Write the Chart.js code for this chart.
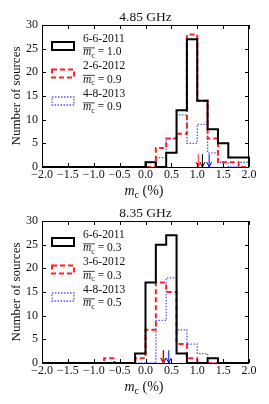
<!DOCTYPE html>
<html>
<head>
<meta charset="utf-8">
<script src="https://cdn.jsdelivr.net/npm/chart.js@4.4.1/dist/chart.umd.min.js"></script>
<style>
  html, body { margin: 0; padding: 0; background: #fff; }
  #wrap { width: 269px; height: 404px; position: relative; }
  canvas { display: block; }
</style>
</head>
<body>
<div id="wrap">
  <canvas id="chartTop" width="269" height="200"></canvas>
  <canvas id="chartBottom" width="269" height="204"></canvas>
</div>
<script>
// bin edges of the histograms (m_c in %)
const binEdges = [-2.0, -1.8, -1.6, -1.4, -1.2, -1.0, -0.8, -0.6, -0.4, -0.2,
  0.0, 0.2, 0.4, 0.6, 0.8, 1.0, 1.2, 1.4, 1.6, 1.8, 2.0];
const xTicks = [-2.0, -1.5, -1.0, -0.5, 0.0, 0.5, 1.0, 1.5, 2.0];
const yTicks = [0, 5, 10, 15, 20, 25, 30];

// 4.85 GHz
const top2011 = [0, 0, 0, 0, 0, 0, 0, 0, 0, 0, 1, 0, 3, 12, 27, 14, 8, 5, 2, 2];
const top2012 = [0, 0, 0, 0, 0, 0, 0, 0, 0, 0, 0, 4, 6, 7, 28, 14, 6, 1, 1, 0];
const top2013 = [0, 0, 0, 0, 0, 0, 0, 0, 0, 0, 1, 2, 6, 11, 5, 9, 3, 1, 0, 1];
const topLabels = ["6-6-2011", "2-6-2012", "4-8-2013"];
const topMeanText = ["1.0", "0.9", "0.9"];
const topArrows = [1.1, 1.02, 1.23];

// 8.35 GHz
const bot2011 = [0, 0, 0, 0, 0, 0, 0, 0, 0, 2, 17, 25, 27, 2, 0, 0, 1, 0, 0, 0];
const bot2012 = [0, 0, 0, 0, 0, 0, 1, 0, 0, 1, 7, 17, 15, 4, 1, 0, 0, 0, 0, 0];
const bot2013 = [0, 0, 0, 0, 0, 0, 0, 0, 0, 0, 0, 9, 18, 7, 4, 2, 0, 0, 0, 0];
const botLabels = ["6-6-2011", "3-6-2012", "4-8-2013"];
const botMeanText = ["0.3", "0.3", "0.5"];
const botArrows = [0.35, 0.34, 0.45];

const SERIF = "'Liberation Serif', 'DejaVu Serif', serif";
const styles = [
  { color: "#000000", width: 2, dash: [], arrow: "#000000" },
  { color: "#ff2020", width: 2, dash: [5, 3], arrow: "#ff2020" },
  { color: "#5555ff", width: 1.3, dash: [1.5, 1.5], arrow: "#0000ee" }
];

function stepPoints(counts) {
  const pts = counts.map((c, i) => ({ x: binEdges[i], y: c }));
  pts.push({ x: binEdges[binEdges.length - 1], y: counts[counts.length - 1] });
  pts.push({ x: binEdges[binEdges.length - 1], y: 0 });
  return pts;
}

function drawMc(ctx, x, y, size, overline) {
  // italic m with subscript c, optional bar over both
  ctx.font = `italic ${size}px ${SERIF}`;
  ctx.textAlign = "left";
  ctx.textBaseline = "alphabetic";
  ctx.fillText("m", x, y);
  const mw = ctx.measureText("m").width;
  ctx.font = `${Math.round(size * 0.7)}px ${SERIF}`;
  ctx.fillText("c", x + mw, y + size * 0.22);
  const cw = ctx.measureText("c").width;
  const w = mw + cw;
  if (overline) {
    ctx.save();
    ctx.lineWidth = 0.8;
    ctx.beginPath();
    ctx.moveTo(x, y - size * 0.62);
    ctx.lineTo(x + w, y - size * 0.62);
    ctx.stroke();
    ctx.restore();
  }
  return w;
}

function makeChart(canvasId, opts) {
  const H = opts.height;
  const deco = {
    id: "deco_" + canvasId,
    afterDatasetsDraw(chart) {
      const ctx = chart.ctx;
      const a = chart.chartArea;
      const xs = chart.scales.x;
      const ys = chart.scales.y;
      ctx.save();

      // mean arrows
      opts.arrows.forEach((m, i) => {
        const px = xs.getPixelForValue(m);
        const y0 = ys.getPixelForValue(2.7);
        const y1 = ys.getPixelForValue(0);
        ctx.strokeStyle = styles[i].arrow;
        ctx.lineWidth = 1;
        ctx.setLineDash([]);
        ctx.beginPath();
        ctx.moveTo(px, y0);
        ctx.lineTo(px, y1);
        ctx.moveTo(px - 2.5, y1 - 5);
        ctx.lineTo(px, y1);
        ctx.lineTo(px + 2.5, y1 - 5);
        ctx.stroke();
      });

      // frame and inward ticks
      ctx.strokeStyle = "#000";
      ctx.lineWidth = 1;
      ctx.strokeRect(a.left + 0.5, a.top + 0.5, a.right - a.left - 1, a.bottom - a.top);
      ctx.beginPath();
      xTicks.forEach((v) => {
        const px = Math.round(xs.getPixelForValue(v)) + 0.5;
        ctx.moveTo(px, a.bottom);
        ctx.lineTo(px, a.bottom - 4);
        ctx.moveTo(px, a.top);
        ctx.lineTo(px, a.top + 4);
      });
      yTicks.forEach((v) => {
        const py = Math.round(ys.getPixelForValue(v)) + 0.5;
        ctx.moveTo(a.left, py);
        ctx.lineTo(a.left + 4, py);
        ctx.moveTo(a.right, py);
        ctx.lineTo(a.right - 4, py);
      });
      ctx.stroke();

      // title
      ctx.fillStyle = "#111";
      ctx.font = `13.5px ${SERIF}`;
      ctx.textAlign = "center";
      ctx.textBaseline = "alphabetic";
      ctx.fillText(opts.title, (a.left + a.right) / 2, a.top - 4);

      // x label
      const lx = (a.left + a.right) / 2 - 21;
      const ly = a.bottom + 28;
      const w = drawMc(ctx, lx, ly, 14, false);
      ctx.font = `14px ${SERIF}`;
      ctx.textAlign = "left";
      ctx.fillText(" (%)", lx + w, ly);

      // y label
      ctx.save();
      ctx.translate(17, (a.top + a.bottom) / 2);
      ctx.rotate(-Math.PI / 2);
      ctx.font = `13px ${SERIF}`;
      ctx.textAlign = "center";
      ctx.textBaseline = "middle";
      ctx.fillText("Number of sources", 0, 0);
      ctx.restore();

      // legend
      opts.labels.forEach((lab, i) => {
        const by = a.top + 17 + i * 27.5;
        const st = styles[i];
        ctx.strokeStyle = st.color;
        ctx.lineWidth = st.width;
        ctx.setLineDash(st.dash);
        ctx.strokeRect(a.left + 10, by, 22, 8);
        ctx.setLineDash([]);
        ctx.fillStyle = "#111";
        ctx.font = `11.5px ${SERIF}`;
        ctx.textAlign = "left";
        ctx.textBaseline = "alphabetic";
        ctx.fillText(lab, a.left + 41, by - 0.5);
        ctx.strokeStyle = "#111";
        const mw = drawMc(ctx, a.left + 41, by + 13, 11.5, true);
        ctx.font = `11.5px ${SERIF}`;
        ctx.fillText(" = " + opts.meanText[i], a.left + 41 + mw, by + 13);
      });

      ctx.restore();
    }
  };

  const datasets = opts.series.map((counts, i) => ({
    data: stepPoints(counts),
    borderColor: styles[i].color,
    borderWidth: styles[i].width,
    borderDash: styles[i].dash,
    stepped: "before",
    pointRadius: 0,
    fill: false,
    clip: false
  }));

  return new Chart(document.getElementById(canvasId), {
    type: "line",
    data: { datasets },
    options: {
      responsive: false,
      animation: false,
      layout: { padding: { top: opts.top, right: 20, left: 0, bottom: 0 } },
      plugins: { legend: { display: false }, tooltip: { enabled: false } },
      scales: {
        x: {
          type: "linear",
          min: -2,
          max: 2,
          afterBuildTicks: (s) => { s.ticks = xTicks.map((v) => ({ value: v })); },
          afterFit: (s) => { s.height = H - opts.bottom; },
          grid: { display: false, drawTicks: false },
          border: { display: false },
          ticks: {
            color: "#111",
            font: { family: SERIF, size: 12 },
            padding: 1,
            maxRotation: 0,
            autoSkip: false,
            callback: (v) => (v < 0 ? "\u2212" + Math.abs(v).toFixed(1) : v.toFixed(1))
          }
        },
        y: {
          min: 0,
          max: 30,
          afterBuildTicks: (s) => { s.ticks = yTicks.map((v) => ({ value: v })); },
          afterFit: (s) => { s.width = 42; },
          grid: { display: false, drawTicks: false },
          border: { display: false },
          ticks: {
            color: "#111",
            font: { family: SERIF, size: 12 },
            padding: 4
          }
        }
      }
    },
    plugins: [deco]
  });
}

makeChart("chartTop", {
  height: 200, top: 25, bottom: 167,
  title: "4.85 GHz",
  series: [top2011, top2012, top2013],
  labels: topLabels, meanText: topMeanText, arrows: topArrows
});

makeChart("chartBottom", {
  height: 204, top: 21, bottom: 163,
  title: "8.35 GHz",
  series: [bot2011, bot2012, bot2013],
  labels: botLabels, meanText: botMeanText, arrows: botArrows
});
</script>
</body>
</html>
